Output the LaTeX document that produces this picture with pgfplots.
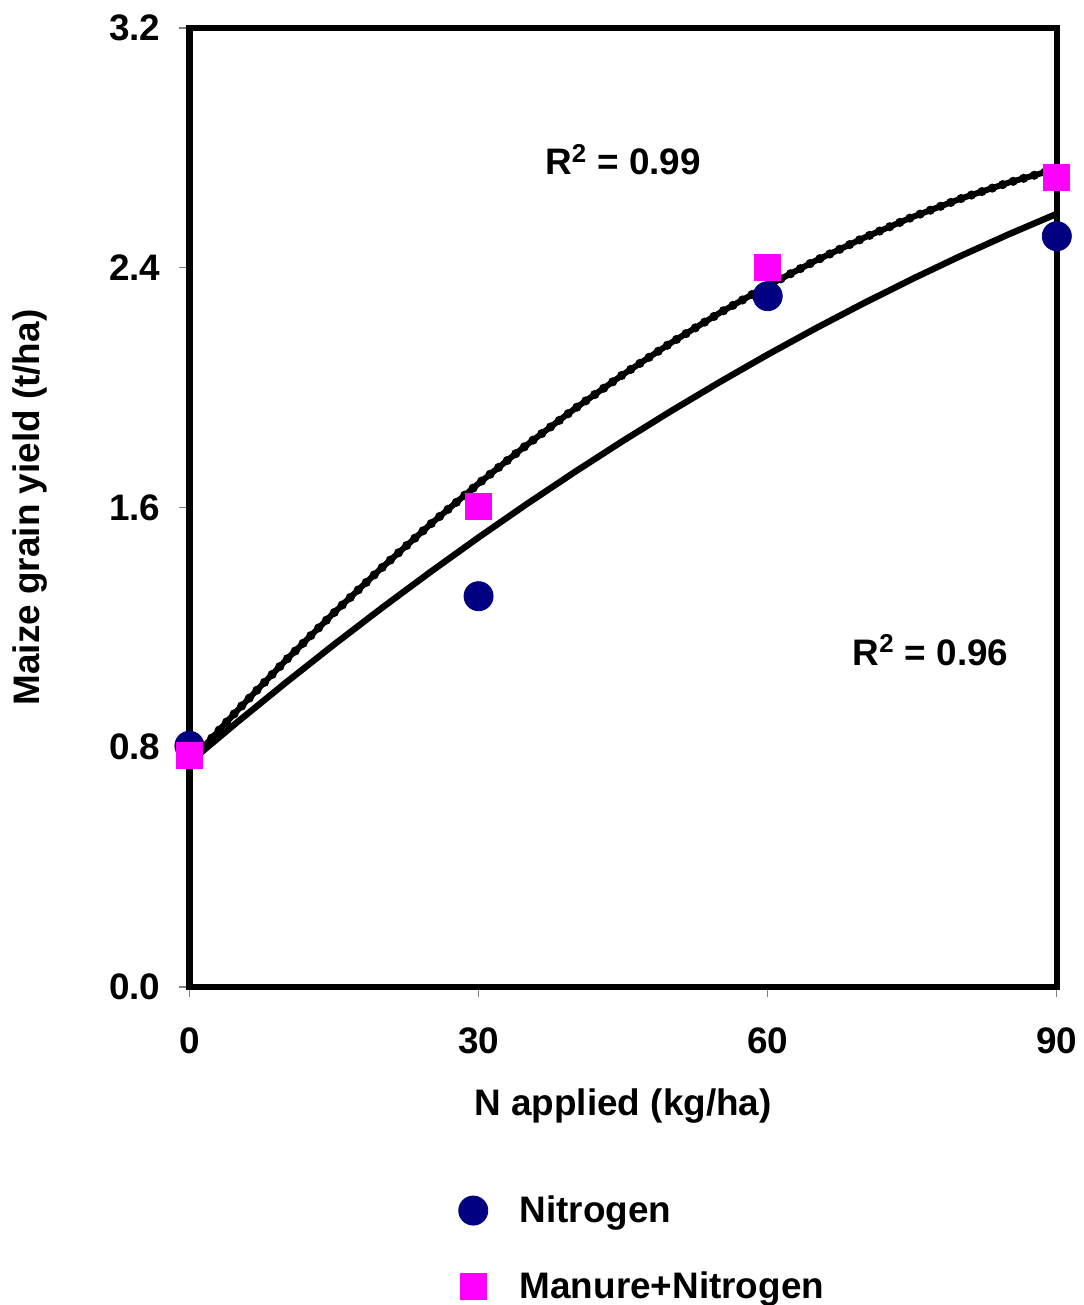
\documentclass[border=0pt]{standalone}
\usepackage{pgfplots}
\pgfplotsset{compat=1.18}
\usepackage{fontspec}
\setmainfont{Liberation Sans}
\definecolor{navyc}{RGB}{0,0,128}
\definecolor{magc}{RGB}{255,0,255}
\begin{document}
\begin{tikzpicture}
\begin{axis}[
  scale only axis,
  width=435pt, height=481pt,
  xmin=0, xmax=90, ymin=0, ymax=3.2,
  xtick={0,30,60,90}, ytick={0,0.8,1.6,2.4,3.2},
  axis line style={line width=3.2pt},
  tick align=outside,
  major tick length=5pt,
  tick style={gray, line width=0.6pt},
  xtick pos=bottom, ytick pos=left,
  /pgf/number format/assume math mode=true,
  yticklabel style={/pgf/number format/fixed, /pgf/number format/fixed zerofill, /pgf/number format/precision=1, xshift=-6pt},
  ticklabel style={font=\fontsize{18.5}{22}\selectfont\bfseries},
  xticklabel style={yshift=-12pt},
  xlabel={N applied (kg/ha)},
  ylabel={Maize grain yield (t/ha)},
  label style={font=\fontsize{18.5}{22}\selectfont\bfseries},
  xlabel style={at={(axis description cs:0.5,-0.1245)}, anchor=center},
  ylabel style={at={(axis description cs:-0.184,0.5)}, anchor=center},
  legend style={at={(axis description cs:0.310,-0.213)}, anchor=north west, draw=none,
    font=\fontsize{18.5}{22}\selectfont\bfseries, row sep=19pt, inner sep=0pt},
  legend cell align=left,
  legend image code/.code={\draw[#1] plot coordinates {(0.35cm,0cm)};},
  clip=false,
]
% Nitrogen fit (R^2 = 0.96)
\addplot[black, line width=3.2pt, forget plot] coordinates {
(0,0.75) (5,0.8847) (10,1.0155) (15,1.1425) (20,1.2656) (25,1.3847) (30,1.50)
(35,1.6114) (40,1.7188) (45,1.8225) (50,1.9222) (55,2.018) (60,2.11) (65,2.198)
(70,2.2821) (75,2.3624) (80,2.4388) (85,2.5112) (90,2.5798)};
% Manure+Nitrogen fit (R^2 = 0.99)
\addplot[black, line width=3pt, forget plot] coordinates {
(0,0.75) (5,0.9238) (10,1.09) (15,1.2488) (20,1.40) (25,1.5438) (30,1.68)
(35,1.8088) (40,1.93) (45,2.0438) (50,2.15) (55,2.2488) (60,2.34) (65,2.4238)
(70,2.50) (75,2.5688) (80,2.63) (85,2.6838) (90,2.73)};
\addplot[black, line width=4.6pt, line cap=round, dash pattern=on 0pt off 5.5pt, forget plot] coordinates {
(0,0.75) (5,0.9238) (10,1.09) (15,1.2488) (20,1.40) (25,1.5438) (30,1.68)
(35,1.8088) (40,1.93) (45,2.0438) (50,2.15) (55,2.2488) (60,2.34) (65,2.4238)
(70,2.50) (75,2.5688) (80,2.63) (85,2.6838) (90,2.73)};
\addplot[only marks, mark=*, mark size=7.3pt, color=navyc, fill=navyc] coordinates {
(0,0.805) (30,1.304) (60,2.305) (90,2.505)};
\addlegendentry{\hspace{14pt}Nitrogen}
\addplot[only marks, mark=square*, mark size=6.5pt, color=magc, fill=magc] coordinates {
(0,0.772) (30,1.603) (60,2.402) (90,2.70)};
\addlegendentry{\hspace{14pt}Manure+Nitrogen}
\node[font=\fontsize{18.5}{22}\selectfont\bfseries] at (axis cs:45,2.76) {R\textsuperscript{2} = 0.99};
\node[font=\fontsize{18.5}{22}\selectfont\bfseries] at (axis cs:76.9,1.124) {R\textsuperscript{2} = 0.96};
\path (rel axis cs:0,0) ++(-95pt,-157.5pt);
\path (rel axis cs:1,1) ++(13.5pt,14pt);
\end{axis}
\end{tikzpicture}
\end{document}
